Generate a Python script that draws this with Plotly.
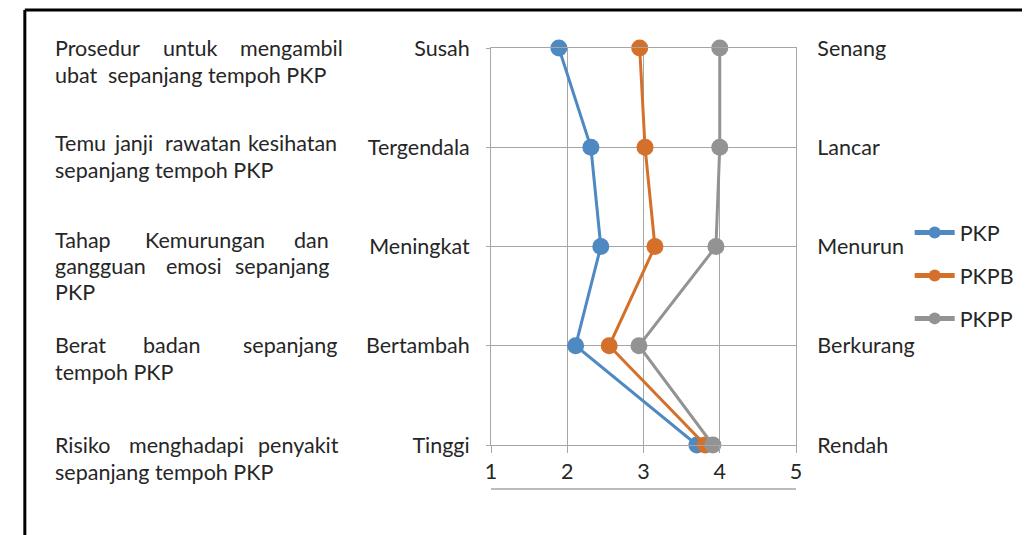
import plotly.graph_objects as go

# ---- data ----
left_labels = ["Susah", "Tergendala", "Meningkat", "Bertambah", "Tinggi"]
right_labels = ["Senang", "Lancar", "Menurun", "Berkurang", "Rendah"]
series_names = ["PKP", "PKPB", "PKPP"]
pkp = [1.89, 2.31, 2.44, 2.11, 3.70]
pkpb = [2.95, 3.02, 3.15, 2.55, 3.81]
pkpp = [4.00, 4.00, 3.95, 2.94, 3.91]
x_ticks = [1, 2, 3, 4, 5]

# question text, one list of lines per row; each line is (words, justified)
questions = [
    [(["Prosedur", "untuk", "mengambil"], True), (["ubat", "sepanjang tempoh PKP"], False)],
    [(["Temu", "janji", "rawatan", "kesihatan"], True), (["sepanjang tempoh PKP"], False)],
    [(["Tahap", "Kemurungan", "dan"], True), (["gangguan", "emosi", "sepanjang"], True), (["PKP"], False)],
    [(["Berat", "badan", "sepanjang"], True), (["tempoh PKP"], False)],
    [(["Risiko", "menghadapi", "penyakit"], True), (["sepanjang tempoh PKP"], False)],
]

# ---- layout (pixel geometry, in window pixels) ----
OFF = 8                      # page body margin
W, H = 1030 - OFF, 535 - OFF
PL, PR, PT, PB = 491, 805.7, 48, 445
pw, ph = PR - PL, PB - PT

def px(x):
    return (x - PL) / pw

def py(y):
    return (PB - y) / ph

# word left positions (px); last word of a justified line gives its right edge
word_x = [
    [[42, 153, 337], [42, 97]],
    [[42, 103, 156, 331], [42]],
    [[42, 135, 323], [42, 157, 323], [42]],
    [[42, 133, 331], [42]],
    [[42, 118, 333], [42]],
]
line_y = [[48, 75], [143, 170], [240, 266, 292], [345, 372], [445, 472]]
TXT_PAD = 3

colors = ["#4F89C1", "#D5702B", "#939393"]
font_fam = "Lato, 'Open Sans', sans-serif"
FS = 21.5
txt_col = "#262626"
grid_col = "#A6A6A6"
rows = list(range(len(left_labels)))

fig = go.Figure()
for name, vals, c in zip(series_names, [pkp, pkpb, pkpp], colors):
    fig.add_trace(go.Scatter(
        x=vals, y=rows, name=name, mode="lines+markers",
        line=dict(color=c, width=3),
        marker=dict(color=c, size=17),
        cliponaxis=False, legendgroup=name,
    ))
# helper trace so the right-hand axis is drawn
fig.add_trace(go.Scatter(x=[None], y=[None], yaxis="y2", showlegend=False,
                         hoverinfo="skip"))

annotations = []
for r, lines in enumerate(questions):
    for li, (words, just) in enumerate(lines):
        for wi, w in enumerate(words):
            last = just and wi == len(words) - 1 and len(words) > 1
            xx = word_x[r][li][wi]
            annotations.append(dict(
                x=px(xx + TXT_PAD if last else xx - TXT_PAD),
                y=py(line_y[r][li]),
                xref="paper", yref="paper", text=w, showarrow=False,
                xanchor="right" if last else "left", yanchor="middle",
                font=dict(family=font_fam, size=FS, color=txt_col),
            ))

shapes = [
    # outer frame (left and top edges)
    dict(type="line", xref="paper", yref="paper", x0=px(10), x1=px(W + 20),
         y0=py(10), y1=py(10), line=dict(color="black", width=3)),
    dict(type="line", xref="paper", yref="paper", x0=px(10), x1=px(10),
         y0=py(10), y1=py(H + 20), line=dict(color="black", width=3)),
    # line under x tick labels
    dict(type="line", xref="x", yref="paper", x0=1, x1=5,
         y0=py(489), y1=py(489), line=dict(color=grid_col, width=1.5)),
]

fig.update_layout(
    width=W, height=H,
    margin=dict(l=PL - OFF, r=W - (PR - OFF), t=PT - OFF, b=H - (PB - OFF), pad=0),
    paper_bgcolor="white", plot_bgcolor="white",
    font=dict(family=font_fam, size=FS, color=txt_col),
    xaxis=dict(range=[1, 5], tickvals=x_ticks, ticktext=[str(v) for v in x_ticks],
               showgrid=True, gridcolor=grid_col, gridwidth=1,
               showline=True, linecolor=grid_col, linewidth=1, mirror=True,
               ticks="outside", ticklen=7, tickcolor=grid_col,
               zeroline=False, tickfont=dict(size=FS, color=txt_col)),
    yaxis=dict(range=[4, 0], tickvals=rows, ticktext=left_labels,
               showgrid=True, gridcolor=grid_col, gridwidth=1,
               showline=True, linecolor=grid_col, linewidth=1,
               ticks="outside", ticklen=4, tickcolor=grid_col,
               zeroline=False, ticklabelstandoff=12,
               tickfont=dict(size=FS, color=txt_col)),
    yaxis2=dict(range=[4, 0], tickvals=rows, ticktext=right_labels,
                overlaying="y", side="right", showgrid=False,
                showline=True, linecolor=grid_col, linewidth=1,
                ticks="", zeroline=False, ticklabelstandoff=16,
                tickfont=dict(size=FS, color=txt_col)),
    legend=dict(x=px(923), y=py(212), xanchor="left", yanchor="top",
                tracegroupgap=12, itemwidth=40, itemsizing="constant",
                font=dict(size=FS, color=txt_col), bgcolor="rgba(0,0,0,0)"),
    annotations=annotations, shapes=shapes,
    showlegend=True,
)

fig.write_html("out.html")
